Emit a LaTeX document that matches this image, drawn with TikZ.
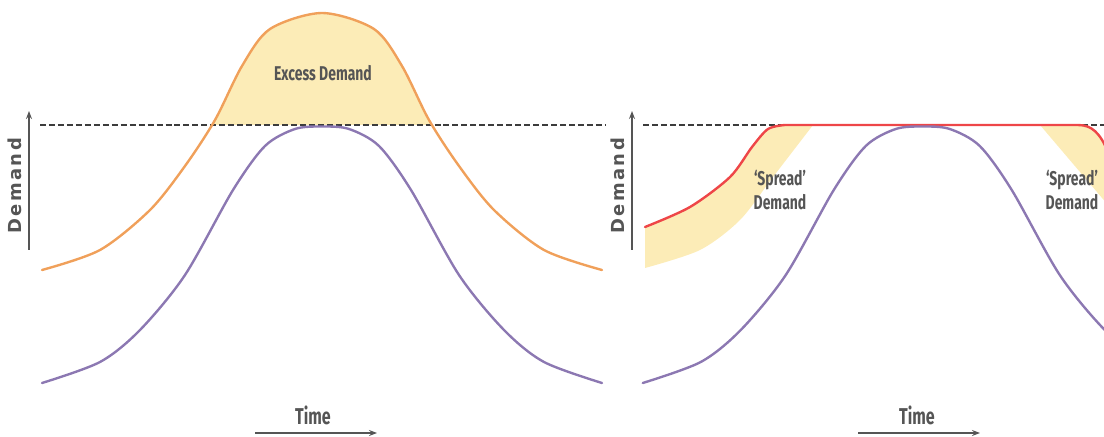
\documentclass[tikz,border=0pt]{standalone}
\usepackage{fontspec}
\setmainfont{Fira Sans}
\newfontfamily\cnd[FakeStretch=0.7]{Fira Sans}
\newfontfamily\axf[LetterSpace=14]{DejaVu Sans}
\usetikzlibrary{arrows.meta}
\definecolor{orng}{RGB}{240,160,90}
\definecolor{fillY}{RGB}{252,236,183}
\definecolor{purp}{RGB}{140,120,178}
\definecolor{redl}{RGB}{238,70,72}
\definecolor{txt}{RGB}{85,85,85}
\definecolor{dashc}{RGB}{60,60,60}
\tikzset{
  curve/.style={line width=2.4, line cap=round},
  limit/.style={draw=dashc, line width=2.6, dash pattern=on 6 off 3},
  axisarrow/.style={draw=txt, line width=1.8, -{Stealth[length=8,width=6]}},
  lbl/.style={text=txt, font=\cnd\bfseries\fontsize{20}{25}\selectfont, inner sep=0, align=center},
  timelbl/.style={text=txt, font=\cnd\bfseries\fontsize{23}{26}\selectfont, inner sep=0},
  axlbl/.style={text=txt, font=\axf\bfseries\fontsize{18}{20}\selectfont, inner sep=0, rotate=90},
}
\begin{document}
\begin{tikzpicture}[x=1bp,y=-1bp]
\useasboundingbox (0,0) rectangle (1104,437);
\clip (0,0) rectangle (1104,437);
\def\orangepts{(42,270)(100,250)(150,210)(185,166)(215,120)(242,66)(270,29)(322,13)(374,29)(402,66)(429,120)(459,166)(494,210)(544,250)(602,270)}
\def\purplepts{(42,383)(100,362)(140,330)(185,275)(233,190)(265,146)(295,129)(322,126.5)(349,129)(379,146)(411,190)(459,275)(504,330)(544,362)(602,383)}
% ---------- left panel ----------
\begin{scope}
  \clip (0,0) rectangle (1104,125);
  \fill[fillY] plot[smooth] coordinates {\orangepts};
\end{scope}
\coordinate (dl1) at (40,125); \coordinate (dl2) at (606,125);
\draw[limit] (dl1) -- (dl2);
\draw[curve, orng] plot[smooth] coordinates {\orangepts};
\draw[curve, purp] plot[smooth] coordinates {\purplepts};
\node[lbl] (ex) at (323,73) {Excess Demand};
\coordinate (ya1) at (29,250); \coordinate (yb1) at (29,111);
\draw[axisarrow] (ya1) -- (yb1);
\node[axlbl] (d1) at (15,186) {Demand};
\coordinate (xa1) at (255,433); \coordinate (xb1) at (377,433);
\draw[axisarrow] (xa1) -- (xb1);
\node[timelbl] (t1) at (313,415) {Time};
% ---------- right panel ----------
\fill[fillY] plot[smooth] coordinates {(645,227)(690,207)(730,177)(752,147)(768,129)(785,125)} -- (813,125)
   -- plot[smooth] coordinates {(813,125)(773,177)(740,220)(700,250)(645,268)} -- cycle;
\fill[fillY] (1040,125) -- (1078,125) .. controls (1092,125) and (1100,133) .. (1108,152) -- (1108,205) -- cycle;
\coordinate (dr1) at (643,125); \coordinate (dr2) at (1106,125);
\draw[limit] (dr1) -- (dr2);
\draw[curve, redl] plot[smooth] coordinates {(645,227)(690,207)(730,177)(752,147)(768,129)(785,125)} -- (1078,125) .. controls (1092,125) and (1100,133) .. (1108,152);
\begin{scope}[xshift=603]
  \draw[curve, purp] plot[smooth] coordinates {\purplepts};
\end{scope}
\node[lbl] (sp1) at (780,190) {‘Spread’\\Demand};
\node[lbl] (sp2) at (1072,190) {‘Spread’\\Demand};
\coordinate (ya2) at (632,250); \coordinate (yb2) at (632,111);
\draw[axisarrow] (ya2) -- (yb2);
\node[axlbl] (d2) at (618,186) {Demand};
\coordinate (xa2) at (858,433); \coordinate (xb2) at (980,433);
\draw[axisarrow] (xa2) -- (xb2);
\node[timelbl] (t2) at (917,415) {Time};
\end{tikzpicture}
\end{document}
